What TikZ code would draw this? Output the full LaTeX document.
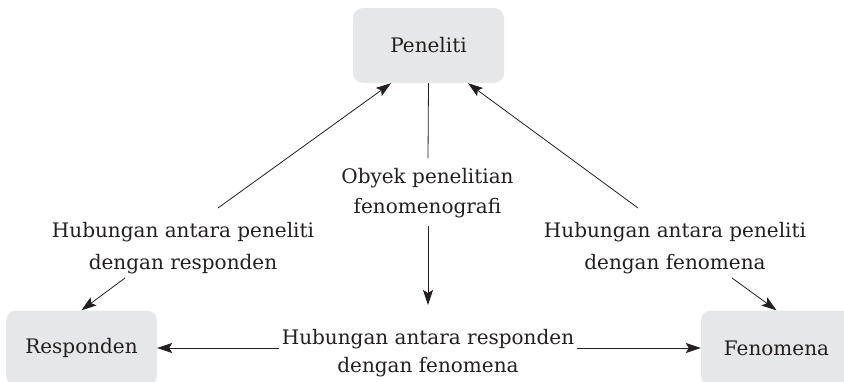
\documentclass[tikz,border=0pt]{standalone}
\usepackage{fontspec}
\setmainfont{DejaVu Serif}
\usetikzlibrary{arrows.meta,calc}
\definecolor{boxfill}{HTML}{E6E7E8}
\definecolor{txt}{HTML}{231F20}
\begin{document}
\begin{tikzpicture}[x=1pt,y=-1pt,
  box/.style={fill=boxfill, rounded corners=10pt, minimum width=151pt, minimum height=75pt,
    text=txt, font=\fontsize{20}{24}\selectfont, inner sep=0pt},
  lbl/.style={align=center, text=txt, inner sep=0pt},
  arr/.style={-{Stealth[length=15pt,width=10pt,inset=3pt]}, line width=0.8pt, draw=txt},
  ln/.style={line width=0.8pt, draw=txt}]
\useasboundingbox (0,0) rectangle (844,381);
\begin{scope}
\clip (0,0) rectangle (844,381);
\node[box] (pen) at (428.5,45.5) {Peneliti};
\node[box] (res) at (81.5,348) {Responden};
\node[box] (fen) at (776.5,348) {Fenomena};
\end{scope}
\node[lbl, font=\fontsize{20}{32}\selectfont] (ll) at (183,248) {Hubungan antara peneliti\\dengan responden};
\node[lbl, font=\fontsize{20}{32}\selectfont] (rl) at (675,248) {Hubungan antara peneliti\\dengan fenomena};
\node[lbl, font=\fontsize{20}{30}\selectfont] (cl) at (427.5,193) {Obyek penelitian\\fenomenografi};
\node[lbl, font=\fontsize{20}{28}\selectfont] (bl) at (428,353.5) {Hubungan antara responden\\dengan fenomena};
% free ends
\coordinate (llu) at (218,208);
\coordinate (lld) at (125,278);
\coordinate (rlu) at (638,208);
\coordinate (rld) at (732,278);
\coordinate (clu) at (428,158);
\coordinate (cld) at (428,226);
\coordinate (ctip) at (428,305);
\coordinate (blw) at (279,348);
\coordinate (ble) at (577,348);
% connectors
\draw[arr] (llu) -- ($(pen.south)+(-37.5,0)$);
\draw[arr] (lld) -- (res.north);
\draw[arr] (rlu) -- ($(pen.south)+(39.5,0)$);
\draw[arr] (rld) -- (fen.north);
\draw[ln] (pen.south) -- (clu);
\draw[arr] (cld) -- (ctip);
\draw[arr] (blw) -- (res.east);
\draw[arr] (ble) -- (fen.west);
\end{tikzpicture}
\end{document}
